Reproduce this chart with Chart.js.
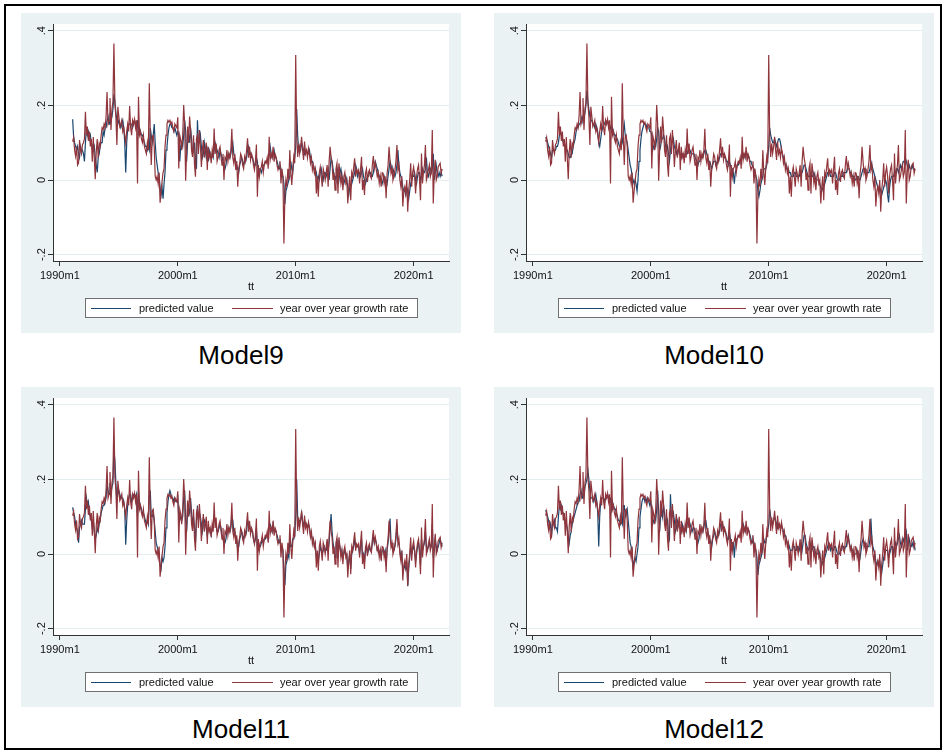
<!DOCTYPE html>
<html>
<head>
<meta charset="utf-8">
<script src="https://cdn.jsdelivr.net/npm/chart.js@4.4.1/dist/chart.umd.min.js"></script>
<style>
  body { margin: 0; width: 946px; height: 754px; background: #fff; position: relative; overflow: hidden;
         font-family: "Liberation Sans", Arial, sans-serif; color: #111; }
  #marco { position: absolute; left: 4px; top: 4px; width: 934px; height: 742px; border: 2px solid #000; }
  .panel { position: absolute; width: 440px; height: 320px; background: #eaf2f3; }
  .panel canvas { position: absolute; left: 0; top: 0; }
  .ejeTitulo { position: absolute; left: 0; width: 460px; top: 266px; text-align: center; font-size: 11px; line-height: 14px; }
  .leyenda { position: absolute; left: 64px; top: 285px; width: 333px; height: 20px; box-sizing: border-box;
             border: 1px solid #707070; background: #fff; font-size: 11px; }
  .leyenda .clave { position: absolute; top: 9px; height: 1.4px; }
  .leyenda .texto { position: absolute; top: 0; line-height: 18px; white-space: nowrap; }
  .titulo { position: absolute; left: 0; width: 440px; top: 327px; text-align: center; font-size: 26px; line-height: 30px; color: #000; }
</style>
</head>
<body>
<div id="marco"></div>
<script>
// meses desde 1990m1; la serie empieza en 1991m2
const primerMes = 13;

// tasa de crecimiento interanual (una fila por año)
const yoy = [
  .103, .114, .080, .064, .090, .040, .045, .107, .080, .070, .095,
  .100, .110, .183, .120, .143, .105, .130, .090, .110, .049, .115, .060,
  .002, .075, .110, .060, .098, .090, .120, .140, .135, .150, .140, .170,
  .236, .150, .160, .220, .134, .190, .210, .366, .205, .170, .094, .196,
  .170, .143, .150, .160, .130, .140, .120, .100, .130, .150, .130, .198,
  .140, .120, .160, .150, .163, .140, .160, -.009, .223, .120, .130, .110,
  .100, .120, .090, .080, .070, .100, .080, .259, .120, .040, .116, .120,
  .090, .010, .000, .010, -.010, .020, -.061, -.030, -.004, .020, .030, .090,
  .120, .150, .160, .155, .160, .150, .155, .140, .130, .150, .145, .140,
  .168, .031, .120, .107, .080, .120, .201, .150, -.002, .080, .143, .100,
  .170, .134, .080, .062, .120, .040, .009, .110, .120, .070, .134, .090,
  .035, .080, .107, .060, .080, .100, .027, .089, .060, .070, .045, .080,
  .060, .138, .070, .098, .050, .062, .080, .089, .062, .040, .070, .000,
  .060, .054, .080, .050, .071, .060, .080, .137, .060, .045, .070, .027,
  .050, -.018, .030, .045, .070, .062, .040, .030, .062, .050, .080, .112,
  .060, .089, .054, .070, .062, .040, .027, .050, .095, -.045, .040, .009,
  .030, .035, .050, .020, .040, .050, .045, .060, .030, .116, .054, .070,
  .060, .089, .049, .070, .062, .040, .027, .035, .050, -.009, .030, .009,
  -.170, -.040, .000, -.018, .030, .000, .080, .020, -.013, .030, .062, .045,
  .335, .120, .062, .098, .071, .090, .116, .080, .054, .103, .070, .080,
  .060, .085, .070, .045, .060, .027, .040, .018, .030, -.036, .009, -.045,
  .020, .035, .010, -.018, .030, .018, .000, .020, .040, -.018, .050, .089,
  .060, .045, .000, .020, -.027, .030, .045, -.036, .045, .020, -.009, .010,
  -.027, .009, .020, -.009, .000, -.063, -.018, .010, -.054, .020, .009, .035,
  .058, .009, .027, .020, .027, -.009, .030, .062, -.027, .000, -.040, .018,
  .030, -.005, .020, .027, .010, .004, .040, .064, .030, .045, .027, .009,
  .020, -.009, .010, -.018, .020, .018, -.009, .010, -.049, .018, .040, .089,
  .050, .018, .030, .000, .010, .027, .050, .094, .027, .040, .000, -.018,
  .010, -.071, -.030, -.018, -.036, .000, -.085, -.027, .000, .045, -.018, .020,
  .035, .010, -.036, .009, .030, .040, .000, -.054, .071, -.009, .020, .040,
  .094, .000, .010, .027, .040, .009, .020, .134, -.063, .020, .054, .000,
  .010, .035, .040, .045, .018, .030
];

// valores predichos de cada modelo
const pred9 = [
  .163, .115, .10, .09, .08, .09, .07, .06, .09, .08, .08,
  .07, .05, .10, .14, .12, .13, .11, .12, .10, .09, .08, .09,
  .06, .04, .02, .06, .07, .09, .10, .10, .13, .12, .14, .14,
  .16, .17, .15, .18, .16, .17, .19, .23, .21, .18, .16, .15,
  .16, .15, .14, .15, .16, .14, .10, .02, .10, .14, .15, .15,
  .15, .15, .14, .15, .16, .15, .14, .16, .12, .14, .13, .12,
  .12, .11, .10, .09, .09, .08, .09, .08, .14, .12, .10, .12,
  .15, .10, .06, .04, .02, .01, -.02, -.04, -.02, -.05, -.01, .02,
  .08, .09, .12, .14, .15, .15, .14, .14, .13, .14, .13, .12,
  .13, .12, .05, .09, .10, .09, .12, .16, .13, .05, .10, .12,
  .10, .14, .11, .07, .08, .10, .05, .03, .16, .10, .10, .12,
  .09, .06, .07, .10, .08, .06, .08, .05, .08, .07, .06, .07,
  .06, .08, .10, .09, .08, .07, .06, .08, .07, .06, .05, .04,
  .03, .04, .06, .06, .07, .06, .07, .09, .10, .07, .06, .05,
  .04, .03, .02, .04, .05, .06, .05, .04, .05, .05, .06, .08,
  .09, .08, .07, .06, .06, .05, .04, .04, .06, .05, .02, .03,
  .03, .02, .03, .04, .04, .05, .05, .05, .05, .07, .09, .07,
  .06, .07, .08, .06, .06, .05, .04, .03, .04, .03, .01, .01,
  -.01, -.065, -.03, -.02, -.01, .00, .01, .05, .03, .02, .05, .06,
  .09, .19, .12, .08, .09, .08, .10, .09, .08, .07, .08, .08,
  .07, .07, .08, .06, .05, .05, .04, .03, .03, .02, .00, .01,
  .00, .02, .03, .01, .00, .02, .02, .01, .02, .03, .00, .03,
  .06, .05, .03, .01, .01, .00, .02, .03, .00, .02, .03, .01,
  .00, -.01, .00, .01, .00, -.02, -.04, -.02, -.02, -.01, .00, .01,
  .02, .04, .03, .01, .02, .02, .01, .02, .03, .01, .00, -.01,
  .00, .01, .01, .02, .02, .01, .01, .02, .04, .05, .04, .03,
  .02, .01, .01, .00, -.01, .00, .01, .00, .00, -.01, .01, .03,
  .05, .04, .02, .03, .02, .01, .02, .04, .08, .04, .02, .01,
  .00, -.02, -.03, -.03, -.04, -.02, -.03, -.05, -.03, -.01, .00, .01,
  .01, .02, .00, -.01, .01, .02, .02, .00, .01, .03, .02, .02,
  .03, .06, .02, .01, .02, .03, .02, .03, .07, .00, .02, .04,
  .02, .01, .02, .01, .02, .01
];

const pred10 = [
  .115, .11, .10, .09, .08, .07, .06, .08, .08, .08, .08,
  .09, .09, .10, .12, .13, .12, .11, .10, .10, .09, .08, .08,
  .07, .06, .06, .07, .07, .09, .10, .11, .13, .14, .14, .15,
  .15, .16, .17, .16, .17, .18, .20, .24, .21, .19, .17, .16,
  .16, .15, .15, .14, .15, .14, .13, .10, .09, .11, .13, .14,
  .15, .15, .16, .15, .16, .15, .15, .14, .13, .14, .13, .12,
  .12, .11, .11, .10, .09, .09, .09, .10, .13, .15, .12, .11,
  .10, .08, .06, .04, .03, .01, .00, -.01, .00, -.01, -.03, .00,
  .05, .08, .11, .13, .14, .15, .15, .15, .14, .14, .14, .13,
  .13, .12, .08, .09, .10, .09, .11, .14, .13, .08, .09, .11,
  .11, .12, .11, .09, .08, .09, .07, .05, .08, .10, .10, .11,
  .09, .08, .07, .08, .08, .07, .07, .06, .07, .07, .06, .07,
  .07, .07, .08, .08, .08, .07, .07, .07, .07, .06, .06, .05,
  .04, .05, .05, .06, .06, .06, .07, .08, .08, .07, .06, .05,
  .05, .04, .03, .04, .05, .05, .05, .04, .05, .05, .06, .07,
  .07, .07, .07, .06, .06, .05, .05, .04, .05, .04, .03, .03,
  .02, -.01, .02, .03, .04, .04, .05, .05, .05, .06, .07, .07,
  .06, .07, .07, .06, .06, .05, .05, .04, .04, .03, .02, .01,
  .00, -.03, -.045, -.03, -.01, .00, .01, .03, .03, .03, .04, .06,
  .09, .14, .12, .11, .10, .10, .11, .10, .09, .10, .11, .11,
  .10, .08, .07, .06, .05, .04, .04, .03, .03, .02, .02, .01,
  .01, .01, .02, .02, .01, .01, .01, .01, .02, .02, .02, .03,
  .04, .04, .03, .02, .01, .01, .01, .02, .01, .01, .02, .01,
  .00, .00, .00, .00, -.01, -.02, -.03, -.02, -.02, -.01, .00, .01,
  .02, .02, .02, .01, .01, .01, .01, .02, .02, .01, .00, .00,
  .00, .01, .01, .01, .02, .02, .02, .02, .03, .03, .03, .02,
  .02, .01, .01, .01, .00, .00, .01, .01, .00, .00, .01, .02,
  .03, .03, .03, .02, .02, .02, .02, .03, .05, .04, .03, .02,
  .01, .00, -.01, -.02, -.02, -.02, -.03, -.04, -.03, -.02, -.01, .00,
  -.01, -.04, -.06, -.02, .00, .01, .01, .01, .02, .02, .03, .03,
  .02, .03, .04, .03, .04, .05, .05, .06, .05, .04, .03, .04,
  .03, .03, .04, .03, .03, .03
];

const pred11 = [
  .125, .11, .10, .08, .07, .06, .03, .07, .08, .09, .08,
  .08, .08, .12, .15, .13, .14, .11, .10, .09, .07, .09, .06,
  .04, .05, .07, .06, .08, .09, .11, .12, .13, .13, .14, .15,
  .19, .17, .16, .19, .16, .18, .19, .28, .25, .19, .14, .16,
  .17, .16, .15, .15, .15, .14, .12, .025, .09, .13, .15, .16,
  .16, .14, .15, .16, .16, .15, .16, .10, .17, .14, .13, .12,
  .11, .11, .10, .09, .08, .09, .08, .15, .17, .10, .10, .11,
  .09, .06, .03, .02, .01, .00, -.03, -.04, -.01, -.02, -.01, .02,
  .07, .11, .14, .16, .17, .16, .15, .15, .14, .15, .14, .14,
  .15, .10, .09, .10, .09, .10, .15, .17, .09, .06, .11, .12,
  .11, .15, .11, .08, .10, .07, .03, .09, .13, .09, .11, .10,
  .08, .06, .08, .09, .08, .07, .05, .07, .07, .06, .05, .07,
  .07, .10, .09, .08, .06, .06, .07, .08, .07, .05, .05, .03,
  .03, .04, .06, .06, .07, .06, .07, .10, .09, .06, .06, .04,
  .04, .01, .02, .04, .05, .06, .05, .04, .05, .05, .06, .09,
  .08, .08, .06, .06, .06, .04, .03, .04, .07, .02, .03, .02,
  .02, .03, .04, .03, .04, .04, .05, .05, .04, .08, .08, .07,
  .06, .08, .06, .06, .06, .05, .04, .03, .04, .02, .02, .01,
  -.05, -.083, -.03, -.02, .00, -.01, .04, .02, .02, .04, .04, .05,
  .10, .20, .10, .08, .09, .09, .11, .09, .07, .09, .08, .08,
  .07, .08, .07, .05, .05, .04, .04, .02, .02, -.01, .00, -.02,
  .00, .02, .01, .00, .01, .02, .01, .01, .03, .01, .03, .07,
  .107, .06, .03, .01, -.01, .02, .04, -.01, .03, .02, .00, .01,
  -.01, .00, .01, .00, .00, -.04, -.02, .00, -.04, .00, .01, .02,
  .04, .02, .02, .02, .02, .00, .02, .04, -.01, .00, -.02, .01,
  .02, .00, .01, .02, .01, .01, .03, .05, .03, .04, .03, .01,
  .01, .00, .01, -.01, .01, .01, .00, .01, -.03, .01, .03, .07,
  .095, .03, .02, .01, .01, .02, .04, .08, .04, .03, .01, -.01,
  .00, -.05, -.04, -.03, -.04, -.02, -.086, -.04, -.01, .02, .00, .01,
  .02, .01, -.02, .00, .02, .03, .01, -.03, .04, .01, .02, .03,
  .06, .02, .01, .02, .03, .02, .02, .08, -.01, .01, .04, .02,
  .01, .02, .03, .04, .03, .02
];

const pred12 = [
  .118, .11, .10, .09, .07, .08, .05, .08, .08, .09, .07,
  .07, .06, .10, .13, .12, .13, .11, .11, .10, .08, .08, .07,
  .05, .03, .05, .06, .08, .09, .10, .11, .12, .13, .14, .14,
  .16, .17, .15, .17, .16, .18, .19, .20, .225, .20, .17, .15,
  .15, .15, .14, .15, .16, .14, .11, .02, .10, .14, .15, .15,
  .15, .14, .15, .15, .16, .15, .15, .15, .12, .14, .13, .12,
  .12, .11, .10, .09, .09, .08, .09, .08, .13, .13, .10, .11,
  .12, .09, .06, .03, .02, .01, -.043, -.02, -.01, -.02, .00, .02,
  .07, .10, .12, .14, .15, .15, .14, .15, .14, .15, .14, .13,
  .14, .12, .08, .09, .10, .09, .12, .17, .11, .06, .10, .12,
  .10, .13, .11, .08, .08, .09, .05, .04, .16, .10, .10, .11,
  .09, .06, .07, .09, .08, .07, .07, .06, .08, .07, .06, .07,
  .06, .08, .09, .09, .08, .07, .06, .07, .07, .06, .05, .04,
  .03, .04, .06, .06, .07, .06, .07, .09, .09, .07, .06, .05,
  .04, .03, .02, .04, .05, .06, .05, .04, .05, .05, .06, .08,
  .08, .08, .07, .06, .06, .05, .04, .04, .06, .04, .02, .03,
  .03, -.01, .03, .04, .04, .05, .05, .05, .05, .07, .08, .07,
  .06, .07, .07, .06, .06, .05, .04, .03, .04, .03, .01, .01,
  -.01, -.056, -.03, -.02, -.01, .00, .02, .04, .03, .03, .05, .06,
  .08, .12, .10, .09, .08, .09, .10, .09, .08, .07, .08, .08,
  .07, .07, .07, .06, .05, .05, .04, .03, .03, .02, .01, .01,
  .01, .02, .02, .01, .01, .02, .02, .01, .02, .03, .01, .03,
  .05, .05, .03, .02, .01, .01, .02, .03, .01, .02, .02, .01,
  .00, .00, .00, .01, .00, -.02, -.03, -.02, -.02, -.01, .00, .01,
  .02, .03, .02, .01, .02, .01, .01, .02, .02, .01, .00, .00,
  .00, .01, .01, .02, .02, .01, .02, .02, .04, .05, .03, .02,
  .02, .01, .01, .00, .00, .00, .01, .00, .00, -.01, .01, .03,
  .04, .03, .03, .02, .02, .02, .02, .04, .095, .04, .02, .01,
  .00, -.02, -.03, -.02, -.03, -.02, -.04, -.05, -.03, -.01, .00, .01,
  .01, .01, -.01, .00, .01, .02, .02, .00, .02, .03, .02, .03,
  .04, .05, .03, .02, .03, .04, .03, .05, .06, .01, .03, .04,
  .02, .02, .03, .02, .03, .01
];

const predicciones = [pred9, pred10, pred11, pred12];
const titulos = ["Model9", "Model10", "Model11", "Model12"];
const leyenda = ["predicted value", "year over year growth rate"];
const xTicks = [0, 120, 240, 360];
const xTickLabels = ["1990m1", "2000m1", "2010m1", "2020m1"];
const yTicks = [-0.2, 0, 0.2, 0.4];
const yTickLabels = ["-.2", "0", ".2", ".4"];

const colorPred = "#1a476f";
const colorYoy = "#90353b";
const fuente = '"Liberation Sans", Arial, sans-serif';
const posiciones = [[21, 13], [494, 13], [21, 387], [494, 387]];

// fondo blanco de la zona de trazado
const fondoBlanco = {
  id: "fondoBlanco",
  beforeDraw(chart) {
    const a = chart.chartArea;
    chart.ctx.save();
    chart.ctx.fillStyle = "#fff";
    chart.ctx.fillRect(a.left, a.top, a.right - a.left, a.bottom - a.top);
    chart.ctx.restore();
  }
};

// etiquetas del eje y giradas, como en stata
const etiquetasY = {
  id: "etiquetasY",
  afterDraw(chart) {
    const ctx = chart.ctx;
    const y = chart.scales.y;
    ctx.save();
    ctx.fillStyle = "#111";
    ctx.font = "11px " + fuente;
    ctx.textAlign = "center";
    ctx.textBaseline = "middle";
    yTicks.forEach((v, i) => {
      ctx.save();
      ctx.translate(chart.chartArea.left - 11, y.getPixelForValue(v));
      ctx.rotate(-Math.PI / 2);
      ctx.fillText(yTickLabels[i], 0, 0);
      ctx.restore();
    });
    ctx.restore();
  }
};

function puntos(serie) {
  return serie.map((v, i) => ({ x: primerMes + i, y: v }));
}

function crearPanel(idx) {
  let panel = document.createElement("div");
  panel.className = "panel";
  panel.style.left = posiciones[idx][0] + "px";
  panel.style.top = posiciones[idx][1] + "px";
  panel.innerHTML =
    '<canvas width="440" height="320"></canvas>' +
    '<div class="ejeTitulo">tt</div>' +
    '<div class="leyenda">' +
      '<div class="clave" style="left:5px;width:40px;background:' + colorPred + '"></div>' +
      '<div class="texto" style="left:53px">' + leyenda[0] + '</div>' +
      '<div class="clave" style="left:146px;width:41px;background:' + colorYoy + '"></div>' +
      '<div class="texto" style="left:194px">' + leyenda[1] + '</div>' +
    '</div>' +
    '<div class="titulo">' + titulos[idx] + '</div>';
  document.body.appendChild(panel);

  let ctx = panel.querySelector("canvas").getContext("2d");
  new Chart(ctx, {
    type: "line",
    data: {
      datasets: [
        { label: leyenda[0], data: puntos(predicciones[idx]), borderColor: colorPred,
          borderWidth: 1.2, pointRadius: 0, tension: 0, order: 2 },
        { label: leyenda[1], data: puntos(yoy), borderColor: colorYoy,
          borderWidth: 1.2, pointRadius: 0, tension: 0, order: 1 },
      ],
    },
    options: {
      responsive: false,
      animation: false,
      devicePixelRatio: 1,
      layout: { padding: { top: 11, right: 12, left: 0, bottom: 0 } },
      plugins: { legend: { display: false }, tooltip: { enabled: false } },
      scales: {
        x: {
          type: "linear", min: -7, max: 396,
          afterFit: (s) => { s.height = 72; },
          afterBuildTicks: (s) => { s.ticks = xTicks.map((v) => ({ value: v })); },
          ticks: {
            callback: (v, i) => xTickLabels[i],
            color: "#111", font: { family: fuente, size: 11 },
            padding: 3, maxRotation: 0, autoSkip: false,
          },
          grid: { drawOnChartArea: false, tickLength: 5, tickColor: "#333" },
          border: { color: "#333", width: 1 },
        },
        y: {
          min: -0.217, max: 0.418,
          afterFit: (s) => { s.width = 32; },
          afterBuildTicks: (s) => { s.ticks = yTicks.map((v) => ({ value: v })); },
          ticks: { color: "rgba(0,0,0,0)", font: { family: fuente, size: 11 } },
          grid: { color: "#e4eef0", tickLength: 5, tickColor: "#333" },
          border: { color: "#333", width: 1 },
        },
      },
    },
    plugins: [fondoBlanco, etiquetasY],
  });
}

for (let i = 0; i < 4; i++) {
  crearPanel(i);
}
</script>
</body>
</html>
